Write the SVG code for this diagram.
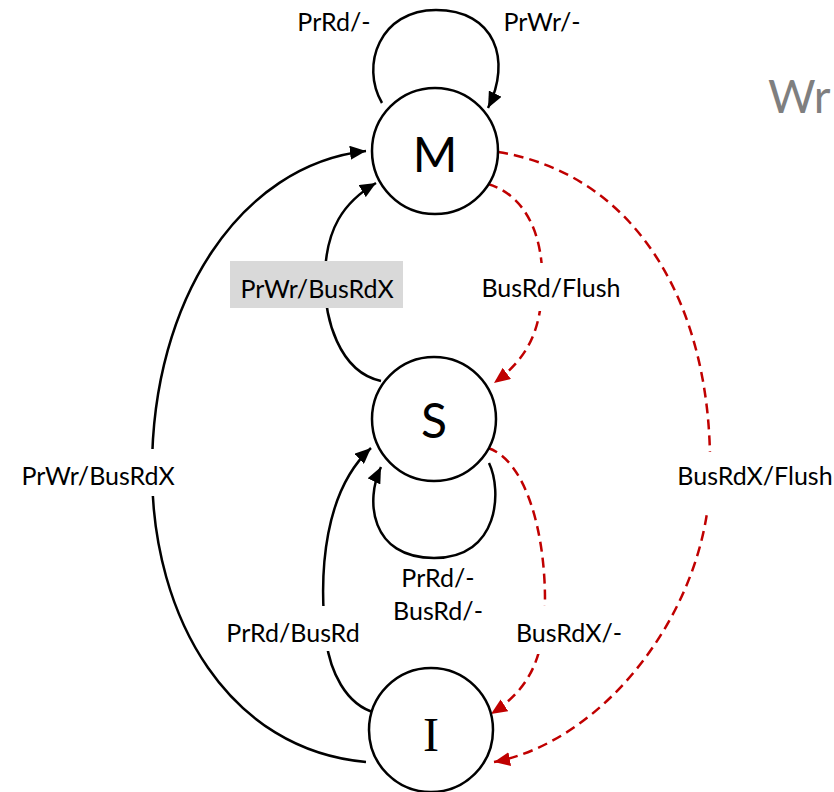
<svg xmlns="http://www.w3.org/2000/svg" width="834" height="792" viewBox="0 0 834 792">
  <style>
    .state { fill: #ffffff; stroke: #000000; stroke-width: 2.5; }
    .state-name { font-family: "Lato", "Open Sans", "Liberation Sans", sans-serif; font-size: 48px; fill: #000000; text-anchor: middle; }
    .edge { fill: none; stroke: #000000; stroke-width: 2.5; }
    .bus { fill: none; stroke: #c00000; stroke-width: 2.5; stroke-dasharray: 10 6; }
    .lbl { font-family: "Lato", "Open Sans", "Liberation Sans", sans-serif; font-size: 25px; fill: #000000; text-anchor: middle; }
    .gap { fill: #ffffff; }
  </style>
  <defs>
    <marker id="arrow" markerUnits="userSpaceOnUse" markerWidth="17" markerHeight="14" refX="16" refY="7" orient="auto">
      <path d="M0,0 L16,7 L0,14 z" fill="#000000"/>
    </marker>
    <marker id="arrow-red" markerUnits="userSpaceOnUse" markerWidth="17" markerHeight="14" refX="16" refY="7" orient="auto">
      <path d="M0,0 L16,7 L0,14 z" fill="#c00000"/>
    </marker>
  </defs>

  <rect width="834" height="792" fill="#ffffff"/>

  <!-- transitions -->
  <g id="connectors">
    <!-- M self loop: PrRd/-, PrWr/- -->
    <path class="edge" d="M382,103 C360,65 380,10 436,10 C495,10 512,60 488,108" marker-end="url(#arrow)"/>
    <!-- I to M: PrWr/BusRdX -->
    <path class="edge" d="M366,762 C230,750 152,620 152,470 C152,300 240,165 366,151" marker-end="url(#arrow)"/>
    <!-- S to M: PrWr/BusRdX -->
    <path class="edge" d="M381,381 C340,372 323,320 325,272 C327,230 342,203 376,183" marker-end="url(#arrow)"/>
    <!-- M to S: BusRd/Flush -->
    <path class="bus" d="M488,184 C525,195 545,235 542,290 C540,335 525,360 494,383" marker-end="url(#arrow-red)"/>
    <!-- M to I: BusRdX/Flush -->
    <path class="bus" d="M498,152 C640,175 712,310 710,470 C712,600 610,740 494,762" marker-end="url(#arrow-red)"/>
    <!-- S self loop: PrRd/-, BusRd/- -->
    <path class="edge" d="M489,463 C502,490 500,558 434,558 C370,558 365,500 381,467" marker-end="url(#arrow)"/>
    <!-- I to S: PrRd/BusRd -->
    <path class="edge" d="M376,713 C345,705 330,670 326,640 C318,570 325,490 371,448" marker-end="url(#arrow)"/>
    <!-- S to I: BusRdX/- -->
    <path class="bus" d="M488,448 C525,460 545,530 545,600 C545,660 528,690 491,714" marker-end="url(#arrow-red)"/>
  </g>

  <!-- transition labels -->
  <g id="labels">
    <text class="lbl" x="334" y="31">PrRd/-</text>
    <text class="lbl" x="542" y="31">PrWr/-</text>

    <rect x="230" y="261" width="173" height="47" fill="#d9d9d9"/>
    <text class="lbl" x="317" y="298">PrWr/BusRdX</text>

    <rect class="gap" x="483" y="263" width="137" height="48"/>
    <text class="lbl" x="551" y="297">BusRd/Flush</text>

    <rect class="gap" x="15" y="449" width="167" height="47"/>
    <text class="lbl" x="98" y="485">PrWr/BusRdX</text>

    <rect class="gap" x="676" y="452" width="158" height="61"/>
    <text class="lbl" x="755" y="485">BusRdX/Flush</text>

    <text class="lbl" x="438" y="587">PrRd/-</text>
    <text class="lbl" x="438" y="620">BusRd/-</text>

    <rect class="gap" x="225" y="606" width="137" height="45"/>
    <text class="lbl" x="293" y="642">PrRd/BusRd</text>

    <rect class="gap" x="515" y="606" width="108" height="48"/>
    <text class="lbl" x="569" y="642">BusRdX/-</text>
  </g>

  <!-- states -->
  <g id="state-M">
    <circle class="state" cx="435" cy="151" r="63"/>
    <text class="state-name" x="435" y="172">M</text>
  </g>
  <g id="state-S">
    <circle class="state" cx="434" cy="419" r="62"/>
    <text class="state-name" x="434" y="438">S</text>
  </g>
  <g id="state-I">
    <circle class="state" cx="431" cy="730" r="62"/>
    <text class="state-name" x="431" y="751" style="font-family: 'Liberation Serif', serif;">I</text>
  </g>

  <!-- heading text running off the right edge -->
  <text x="768" y="113" font-family="Lato, 'Open Sans', 'Liberation Sans', sans-serif" font-size="46" fill="#7f7f7f">Wr</text>
</svg>
